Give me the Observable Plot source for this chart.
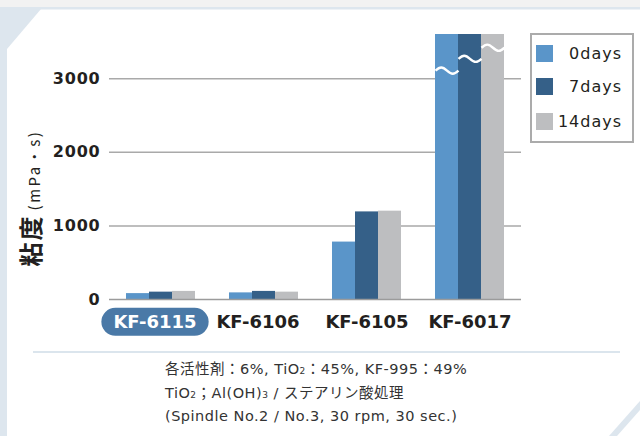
<!DOCTYPE html>
<html>
<head>
<meta charset="utf-8">
<script src="https://cdn.jsdelivr.net/npm/d3@7"></script>
<script src="https://cdn.jsdelivr.net/npm/@observablehq/plot@0.6"></script>
<style>
  html, body { margin: 0; padding: 0; background: #fff; }
  #page { position: relative; width: 640px; height: 436px; overflow: hidden; background: #fff; }
  #bg { position: absolute; left: 0; top: 0; }
  #chart { position: absolute; left: 0; top: 0; }
  #chart svg { overflow: visible; }
  #chart g[aria-label="y-axis tick label"] text { letter-spacing: 0.8px; }
  #legend { position: absolute; left: 530px; top: 33px; width: 100px; height: 106px;
            border: 2px solid #ababab; background: #fff;
            font-family: "DejaVu Sans", "Noto Sans CJK JP", sans-serif; font-size: 16px;
            letter-spacing: 1px; color: #231f20; }
  .sw { position: absolute; left: 4px; width: 17px; height: 17px; }
  .lt { position: absolute; right: 10px; height: 17px; line-height: 17px; }
  #sep { position: absolute; left: 33px; top: 351px; width: 587px; height: 2px; background: #dbe5ed; }
  #caption { position: absolute; left: 165px; top: 359px; font-family: "DejaVu Sans", "Noto Sans CJK JP", sans-serif;
             font-size: 14.5px; line-height: 21.5px; letter-spacing: 0.5px; color: #333; white-space: nowrap; }
  .sub { font-size: 9px; }
</style>
</head>
<body>
<div id="page">
  <svg id="bg" width="640" height="436">
    <rect x="0" y="0" width="640" height="7" fill="#f2f2f2"></rect>
    <rect x="0" y="7" width="640" height="2.5" fill="#dde6ee"></rect>
    <rect x="0" y="7" width="7" height="429" fill="#dde6ee"></rect>
    <polygon points="7,9 41,9 7,49" fill="#dde6ee"></polygon>
    <polygon points="609,436 617,436 640,410 640,401" fill="#dde6ee"></polygon>
  </svg>
  <div id="chart"></div>
  <div id="legend"></div>
  <div id="sep"></div>
  <div id="caption">
    <div>各活性剤：6%, TiO<span class="sub">2</span>：45%, KF-995：49%</div>
    <div>TiO<span class="sub">2</span>；Al(OH)<span class="sub">3</span> / ステアリン酸処理</div>
    <div>(Spindle No.2 / No.3, 30 rpm, 30 sec.)</div>
  </div>
</div>
<script>
// ---- data ----
const groups = ["KF-6115", "KF-6106", "KF-6105", "KF-6017"];
const seriesNames = ["0days", "7days", "14days"];
const days0 = [80, 90, 780, 3600];     // KF-6017 bars are broken (drawn to axis top)
const days7 = [100, 110, 1190, 3600];
const days14 = [110, 100, 1200, 3600];
const brokenGroup = "KF-6017";
const breakAt = [3110, 3270, 3420];   // wavy break marks on KF-6017 (0 / 7 / 14 days)
const yTicks = [0, 1000, 2000, 3000];
const yMax = 3600;
const highlighted = "KF-6115";
const colors = ["#5a95c9", "#356088", "#bdbec0"];

// ---- table ----
const seriesValues = [days0, days7, days14];
const rows = [];
seriesNames.forEach((s, i) => groups.forEach((g, j) => rows.push({group: g, series: s, value: seriesValues[i][j]})));
const breakRows = seriesNames.map((s, i) => ({group: brokenGroup, series: s, value: breakAt[i]}));

// ---- layout ----
const W = 640, H = 340, ML = 109, MR = 119, MT = 34, MB = 41;
const PI = 0.33, PO = 0.165;
const step = (W - ML - MR) / (groups.length - PI + 2 * PO);
const sub = step * (1 - PI) / seriesNames.length;
const n = seriesNames.length;

const wave = {
  draw(ctx, size) {
    const hw = Math.sqrt(size / Math.PI), k = hw * 0.36;
    ctx.moveTo(-hw, 0);
    ctx.bezierCurveTo(-hw * 0.6, -k, -hw * 0.4, -k, 0, 0);
    ctx.bezierCurveTo(hw * 0.4, k, hw * 0.6, k, hw, 0);
  }
};

const svg = Plot.plot({
  width: W, height: H,
  marginLeft: ML, marginRight: MR, marginTop: MT, marginBottom: MB,
  style: {fontFamily: "'DejaVu Sans', 'Noto Sans CJK JP', sans-serif", color: "#231f20", background: "transparent", overflow: "visible"},
  x: {domain: groups, paddingInner: PI, paddingOuter: PO, round: false},
  y: {domain: [0, yMax]},
  marks: [
    Plot.ruleY(yTicks.filter(t => t > 0), {stroke: "#a9a9a9", strokeWidth: 1.5}),
    ...seriesNames.map((s, i) => Plot.barY(rows.filter(r => r.series === s), {
      x: "group", y: "value", fill: colors[i],
      insetLeft: i * sub, insetRight: (n - 1 - i) * sub
    })),
    ...seriesNames.map((s, i) => Plot.dot(breakRows.filter(r => r.series === s), {
      x: "group", y: "value", dx: (i - (n - 1) / 2) * sub,
      symbol: wave, r: sub / 2, fill: "none", stroke: "white", strokeWidth: 2.4
    })),
    Plot.ruleY([0], {stroke: "#9b9b9b", strokeWidth: 1.5}),
    Plot.axisY(yTicks, {tickSize: 0, tickPadding: 9, fontSize: 16, fontWeight: "bold", label: null, tickFormat: d => String(d)}),
    Plot.axisX({tickSize: 0, tickPadding: 16, fontSize: 18, fontWeight: "bold", label: null})
  ]
});
document.getElementById("chart").appendChild(svg);

// highlighted pill behind first category label
const xTexts = Array.from(svg.querySelectorAll('g[aria-label="x-axis tick label"] text'));
xTexts.forEach((t, i) => { if (i < 2) t.setAttribute("dx", -6); });
xTexts.forEach(t => {
  if (t.textContent.trim() === highlighted) {
    const bb = t.getBBox();
    const padX = 12, h = 28;
    const rect = document.createElementNS("http://www.w3.org/2000/svg", "rect");
    rect.setAttribute("x", bb.x - padX);
    rect.setAttribute("y", bb.y + bb.height / 2 - h / 2);
    rect.setAttribute("width", bb.width + 2 * padX);
    rect.setAttribute("height", h);
    rect.setAttribute("rx", h / 2);
    rect.setAttribute("fill", "#4a79a7");
    if (t.getAttribute("transform")) rect.setAttribute("transform", t.getAttribute("transform"));
    t.parentNode.insertBefore(rect, t);
    t.setAttribute("fill", "#fff");
  }
});

// y-axis title
const title = d3.select(svg).append("text")
  .attr("transform", "translate(40,198) rotate(-90)")
  .attr("text-anchor", "middle")
  .attr("fill", "#231f20")
  .style("font-family", "'Noto Sans CJK JP', sans-serif");
title.append("tspan").attr("font-size", 24).attr("font-weight", "bold").attr("letter-spacing", 2).text("粘度");
title.append("tspan").attr("font-size", 15).attr("letter-spacing", 2.5).attr("dx", 4).text("(mPa・s)");

// legend
const legend = document.getElementById("legend");
const rowTops = [10, 43, 78];
seriesNames.forEach((s, i) => {
  const sw = document.createElement("div");
  sw.className = "sw"; sw.style.top = rowTops[i] + "px"; sw.style.background = colors[i];
  const lt = document.createElement("div");
  lt.className = "lt"; lt.style.top = rowTops[i] + "px"; lt.textContent = s;
  legend.appendChild(sw); legend.appendChild(lt);
});
</script>
</body>
</html>
